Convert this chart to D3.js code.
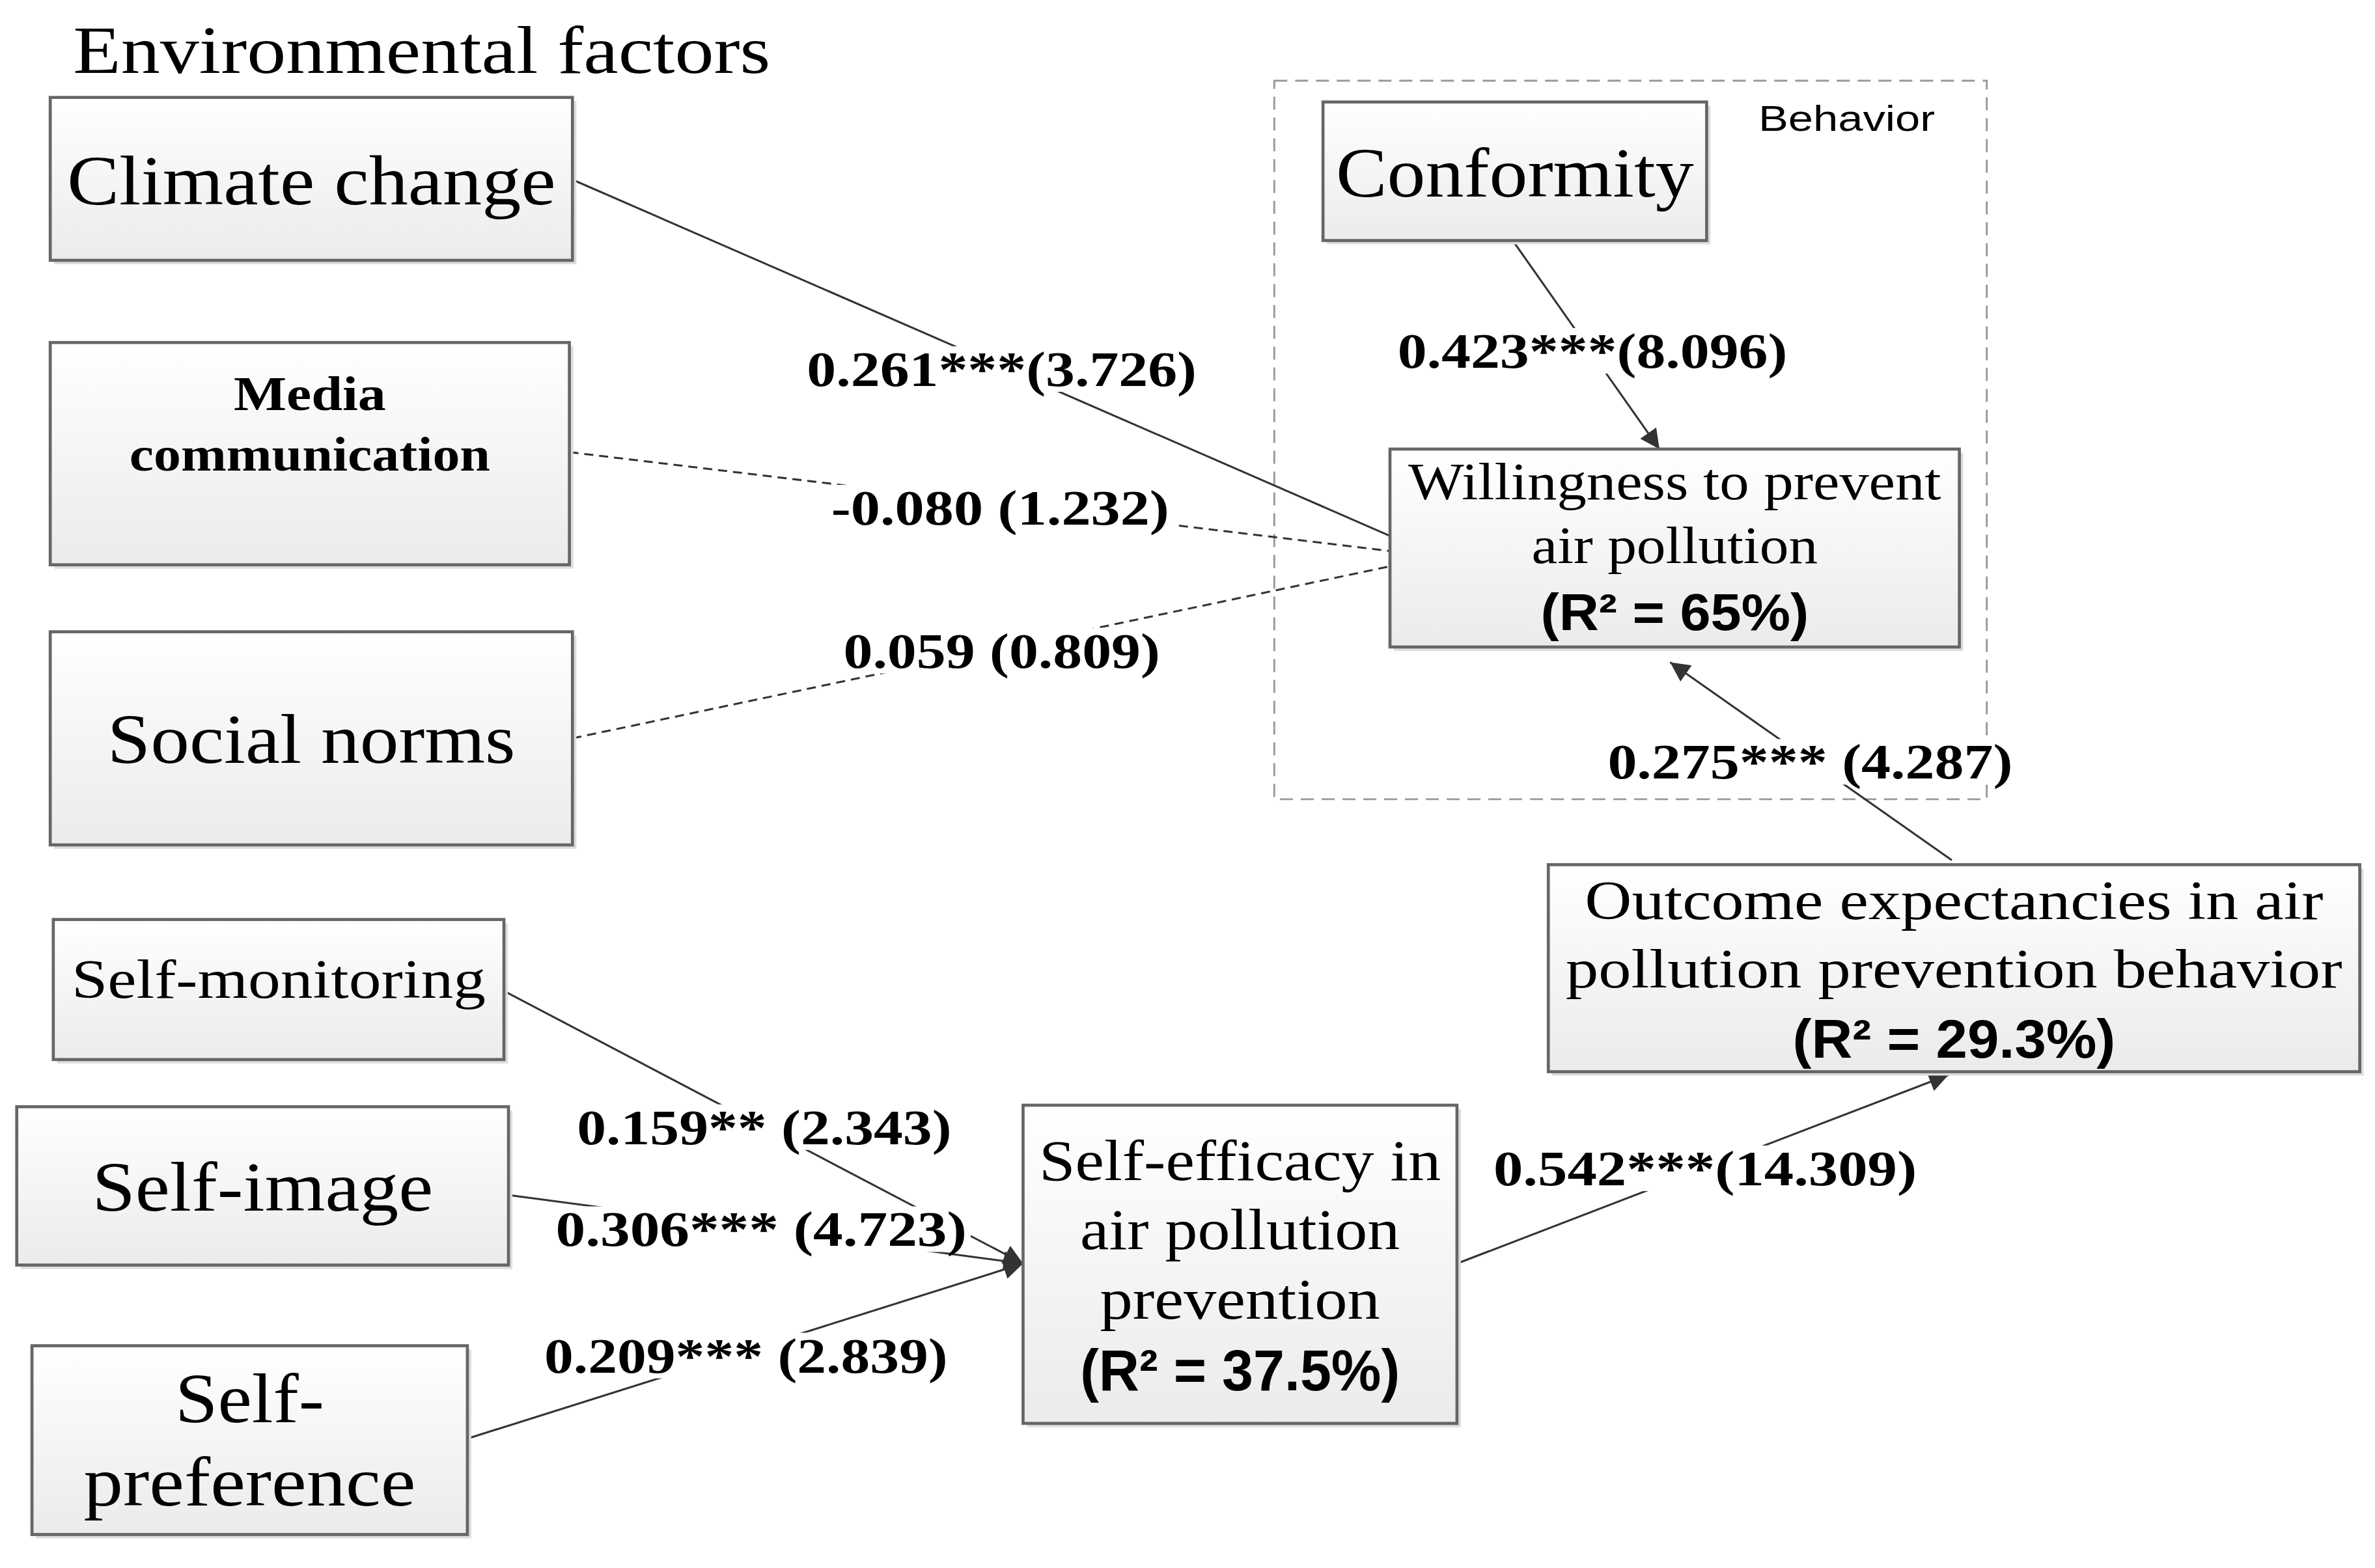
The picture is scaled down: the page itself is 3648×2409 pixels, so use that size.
<!DOCTYPE html>
<html><head><meta charset="utf-8">
<script src="https://cdn.jsdelivr.net/npm/d3@7"></script>
<style>body{margin:0;background:#fff}</style></head>
<body><svg id="c" width="3648" height="2409"></svg>
<script>
// ---- data ----
const nodeIds = ["climate","media","social","conf","will","outc","smon","simg","spref","seff"];
const nodeLines = [
  ["Climate change"],["Media","communication"],["Social norms"],["Conformity"],
  ["Willingness to prevent","air pollution","(R² = 65%)"],
  ["Outcome expectancies in air","pollution prevention behavior","(R² = 29.3%)"],
  ["Self-monitoring"],["Self-image"],["Self-","preference"],
  ["Self-efficacy in","air pollution","prevention","(R² = 37.5%)"]
];
const edgeFrom = ["climate","media","social","conf","outc","smon","simg","spref","seff"];
const edgeTo   = ["will","will","will","will","will","seff","seff","seff","outc"];
const edgeLabels = ["0.261***(3.726)","-0.080 (1.232)","0.059 (0.809)","0.423***(8.096)","0.275*** (4.287)",
  "0.159** (2.343)","0.306*** (4.723)","0.209*** (2.839)","0.542***(14.309)"];
const edgeSig = [true,false,false,true,true,true,true,true,true];

// ---- layout (design units 1560 x 1030) ----
const box = {climate:[33,64,376,171],media:[33,225,374,371],social:[33,415,376,555],conf:[869,67,1121,158],
  will:[913,295,1287,425],outc:[1017,568,1550,704],smon:[35,604,331,696],simg:[11,727,334,831],
  spref:[21,884,307,1008],seff:[672,726,957,935]};
const textY = {climate:[118],media:[258,298],social:[485],conf:[113],will:[316,358,402],outc:[591,636,682],
  smon:[643],simg:[779],spref:[918,973],seff:[762,807,853,900]};
const textW = {climate:[321],media:[100,237],social:[268],conf:[235],will:[350,188,176],outc:[485,510,212],
  smon:[272],simg:[224],spref:[98,218],seff:[264,210,184,210]};
const fs = {climate:46,media:32,social:46,conf:46,will:34,outc:36,smon:36,simg:46,spref:46,seff:38};
const edgePts = [[376,118,913,352],[374,297,913,362],[376,485,913,372],[995,160,1090,295],[1282,565,1097,435],
  [333,652,672,830],[334,785,672,830],[307,945,672,830],[957,830,1280,706]];
const labelPos = [[658,242],[657,333],[658,427],[1046,230],[1189,500],[502,740],[500,807],[490,890],[1120,767]];
const labelW = [256,222,208,256,266,246,270,265,278];
const arrowOn = [false,false,false,true,true,true,true,true,true];

const x = d3.scaleLinear().domain([0,1560]).range([0,3648]);
const y = d3.scaleLinear().domain([0,1030]).range([0,2409]);
const k = 3648/1560;
const svg = d3.select("#c");
const defs = svg.append("defs");
const g = defs.append("linearGradient").attr("id","gr").attr("x1",0).attr("y1",0).attr("x2",0).attr("y2",1);
g.append("stop").attr("offset","0").attr("stop-color","#ffffff");
g.append("stop").attr("offset","1").attr("stop-color","#ebebeb");
defs.append("marker").attr("id","ar").attr("viewBox","0 0 10 10").attr("refX",10).attr("refY",5)
  .attr("markerWidth",36).attr("markerHeight",30).attr("markerUnits","userSpaceOnUse").attr("orient","auto")
  .append("path").attr("d","M0,0L10,5L0,10z").attr("fill","#333");

const serif = "'Liberation Serif','Times New Roman',serif";
const sans = "'Liberation Sans',Arial,sans-serif";

svg.append("text").attr("x",x(48)).attr("y",y(48)).attr("font-family",serif).attr("font-size",44*k)
  .attr("textLength",x(458)).attr("lengthAdjust","spacingAndGlyphs").text("Environmental factors");
svg.append("rect").attr("x",x(837)).attr("y",y(53)).attr("width",x(1305)-x(837)).attr("height",y(525)-y(53))
  .attr("fill","none").attr("stroke","#999").attr("stroke-width",2.5*k/2).attr("stroke-dasharray","20,12");
svg.append("text").attr("x",x(1155)).attr("y",y(86)).attr("font-family",sans).attr("font-size",24*k)
  .attr("textLength",x(116)).attr("lengthAdjust","spacingAndGlyphs").text("Behavior");

edgeFrom.forEach((f,i)=>{
  const p = edgePts[i];
  svg.append("line").attr("x1",x(p[0])).attr("y1",y(p[1])).attr("x2",x(p[2])).attr("y2",y(p[3]))
    .attr("stroke","#333").attr("stroke-width",1.3*k)
    .attr("stroke-dasharray",edgeSig[i]?null:"14,9")
    .attr("marker-end",arrowOn[i]?"url(#ar)":null);
});
edgeLabels.forEach((t,i)=>{
  const lp = labelPos[i];
  const tx = svg.append("text").attr("x",x(lp[0])).attr("y",y(lp[1])).attr("dy","0.35em").attr("text-anchor","middle")
    .attr("font-family",serif).attr("font-weight","bold").attr("font-size",33*k)
    .attr("textLength",x(labelW[i])).attr("lengthAdjust","spacingAndGlyphs").text(t);
  const b = tx.node().getBBox();
  svg.insert("rect","text:last-child").attr("x",b.x-6).attr("y",b.y+8).attr("width",b.width+12).attr("height",b.height-16).attr("fill","#fff");
  tx.raise();
});

nodeIds.forEach((id,i)=>{
  const b = box[id];
  svg.append("rect").attr("x",x(b[0])+6).attr("y",y(b[1])+6).attr("width",x(b[2])-x(b[0])).attr("height",y(b[3])-y(b[1])).attr("fill","#ddd");
  svg.append("rect").attr("x",x(b[0])).attr("y",y(b[1])).attr("width",x(b[2])-x(b[0])).attr("height",y(b[3])-y(b[1]))
    .attr("fill","url(#gr)").attr("stroke","#666").attr("stroke-width",2*k);
  const cx = (x(b[0])+x(b[2]))/2;
  nodeLines[i].forEach((ln,j)=>{
    const isR = ln.startsWith("(R²");
    svg.append("text").attr("x",cx).attr("y",y(textY[id][j])).attr("dy","0.35em").attr("text-anchor","middle")
      .attr("font-family",isR?sans:serif).attr("font-weight",isR||id==="media"?"bold":"normal").attr("font-size",fs[id]*k)
      .attr("textLength",x(textW[id][j])).attr("lengthAdjust","spacingAndGlyphs").text(ln);
  });
});
</script></body></html>
